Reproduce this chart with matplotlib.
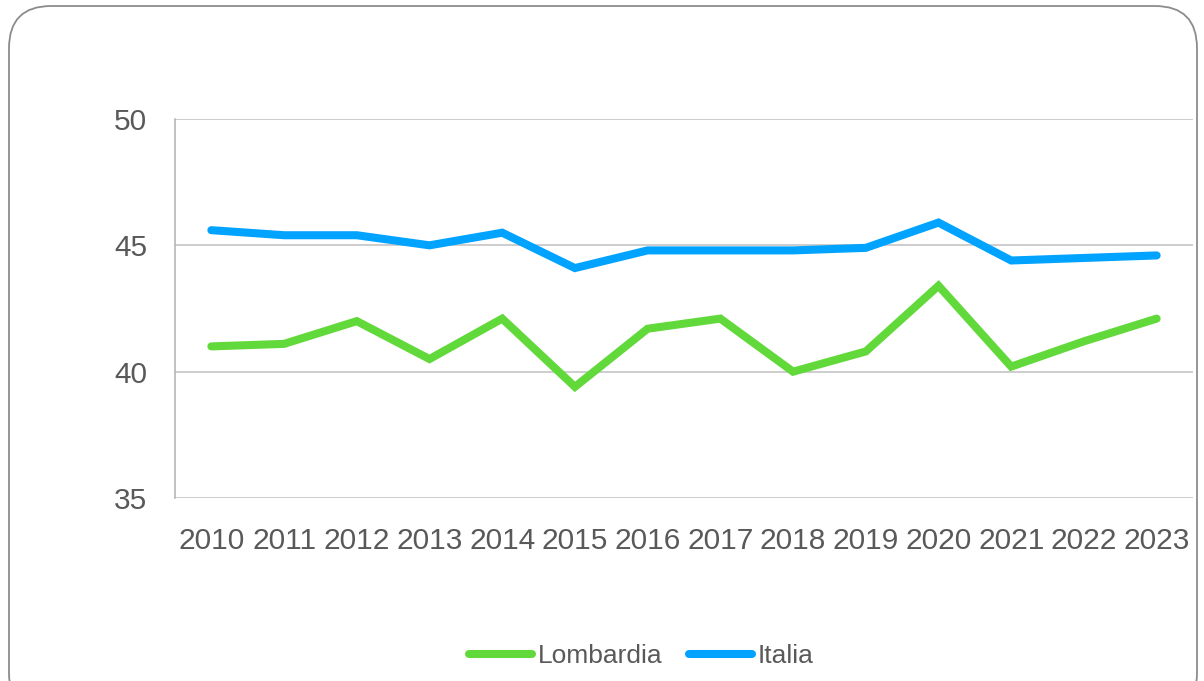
import matplotlib.pyplot as plt
from matplotlib.patches import FancyBboxPatch

plt.rcParams['font.family'] = ['Liberation Sans', 'DejaVu Sans']

years = ['2010', '2011', '2012', '2013', '2014', '2015', '2016',
         '2017', '2018', '2019', '2020', '2021', '2022', '2023']
lombardia = [41.0, 41.1, 42.0, 40.5, 42.1, 39.4, 41.7,
             42.1, 40.0, 40.8, 43.4, 40.2, 41.2, 42.1]
italia = [45.6, 45.4, 45.4, 45.0, 45.5, 44.1, 44.8,
          44.8, 44.8, 44.9, 45.9, 44.4, 44.5, 44.6]

green = '#62d93a'
blue = '#00a3ff'
txt = '#595959'

fig = plt.figure(figsize=(12.04, 6.81), dpi=100)

# rounded frame around the chart
box = FancyBboxPatch((9 / 1204, -0.05), 1188 / 1204, 1.0 - 6 / 681 + 0.05,
                     boxstyle='round,pad=0,rounding_size=0.035',
                     transform=fig.transFigure, facecolor='white',
                     edgecolor='#8c8c8c', lw=1.3, mutation_aspect=1204 / 681,
                     zorder=-10)
fig.patches.append(box)

ax = fig.add_axes([175 / 1204, 1 - 498 / 681, 1018 / 1204, 379 / 681])
ax.set_facecolor('none')
x = range(len(years))
ax.plot(x, lombardia, color=green, lw=5.8, solid_capstyle='round',
        solid_joinstyle='miter', label='Lombardia')
ax.plot(x, italia, color=blue, lw=5.8, solid_capstyle='round',
        solid_joinstyle='miter', label='Italia')

ax.set_xlim(-0.5, 13.5)
ax.set_ylim(35, 50)
ax.set_yticks([35, 40, 45, 50])
ax.set_xticks(list(x))
ax.set_xticklabels(years)
ax.grid(axis='y', color='#c0c0c0', lw=1.1)
ax.set_axisbelow(True)
for s in ['top', 'right', 'bottom']:
    ax.spines[s].set_visible(False)
ax.spines['left'].set_color('#b0b0b0')
ax.spines['left'].set_linewidth(1.1)
ax.tick_params(axis='both', length=0, labelsize=21.5, colors=txt)
ax.tick_params(axis='y', pad=20)
ax.tick_params(axis='x', pad=21)

leg = fig.legend(loc='center', bbox_to_anchor=(641 / 1204, 1 - 656 / 681),
                 ncol=2, frameon=False, fontsize=19, handlelength=2.4,
                 handletextpad=0.2, columnspacing=1.0)
for t in leg.get_texts():
    t.set_color(txt)

fig.savefig('out.png', dpi=100)
